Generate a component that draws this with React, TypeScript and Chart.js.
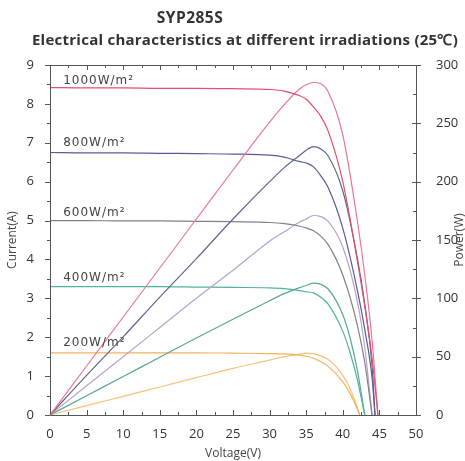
import React, { useEffect, useRef } from "react";
import { Chart, registerables } from "chart.js";

Chart.register(...registerables);

const titleMain = "SYP285S";
const titleSub = "Electrical characteristics at different irradiations (25\u2103)";
const powerAxisTitle = "Power(W)";

const irradiationLabels = ["1000W/m\u00b2", "800W/m\u00b2", "600W/m\u00b2", "400W/m\u00b2", "200W/m\u00b2"];
const labelAnchorVoltage = [1.8, 1.8, 1.8, 1.8, 1.8];
const labelAnchorCurrent = [8.6, 6.99, 5.19, 3.52, 1.85];

const voltage1000 = [0, 5, 10, 15, 20, 25, 30, 32, 34, 35, 36, 37, 38, 40, 42, 43, 44, 44.8];
const current1000 = [8.42, 8.41, 8.41, 8.4, 8.4, 8.39, 8.37, 8.33, 8.22, 8.12, 7.92, 7.68, 7.3, 6.0, 3.95, 2.8, 1.45, 0];
const power1000 = [0, 42, 84, 126, 168, 210, 251, 266, 279, 283, 285, 284, 277, 240, 166, 120, 64, 0];

const voltage800 = [0, 5, 10, 15, 20, 25, 30, 32, 34, 35, 36, 37, 38, 40, 42, 43, 44, 44.4];
const current800 = [6.75, 6.74, 6.74, 6.73, 6.72, 6.71, 6.68, 6.63, 6.52, 6.48, 6.38, 6.15, 5.85, 4.8, 3.2, 2.2, 0.95, 0];
const power800 = [0, 34, 67, 101, 134, 168, 200, 212, 222, 227, 230, 228, 222, 192, 134, 95, 42, 0];

const voltage600 = [0, 5, 10, 15, 20, 25, 30, 32, 34, 35, 36, 37, 38, 40, 42, 43, 44];
const current600 = [5.0, 5.0, 4.99, 4.99, 4.98, 4.97, 4.95, 4.92, 4.86, 4.81, 4.74, 4.6, 4.38, 3.6, 2.3, 1.35, 0];
const power600 = [0, 25, 50, 75, 100, 124, 149, 157, 165, 168, 171, 170, 166, 144, 97, 58, 0];

const voltage400 = [0, 5, 10, 15, 20, 25, 30, 32, 34, 35, 36, 37, 38, 40, 41, 42, 43];
const current400 = [3.3, 3.3, 3.3, 3.3, 3.29, 3.28, 3.27, 3.25, 3.2, 3.17, 3.14, 3.03, 2.85, 2.15, 1.6, 0.9, 0];
const power400 = [0, 16.5, 33, 49.5, 66, 82, 98, 104, 109, 111, 113, 112, 108, 86, 66, 38, 0];

const voltage200 = [0, 5, 10, 15, 20, 25, 30, 32, 34, 35, 36, 38, 40, 41, 42, 42.3];
const current200 = [1.6, 1.6, 1.6, 1.6, 1.6, 1.59, 1.58, 1.57, 1.54, 1.51, 1.46, 1.25, 0.85, 0.55, 0.15, 0];
const power200 = [0, 8, 16, 24, 32, 40, 47, 50, 52, 53, 52.5, 47.5, 34, 22.5, 6.3, 0];

const ivColors = ["#e2506e", "#5a5a98", "#80808e", "#4fb3a0", "#f2b25a"];
const powerColors = ["#ea7894", "#62648e", "#b8a2cc", "#5aa892", "#f6c27a"];

const xMin = 0, xMax = 50, xStep = 5;
const yMin = 0, yMax = 9, yStep = 1;
const pMin = 0, pMax = 300, pStep = 50;

const pts = (xs: number[], ys: number[]) => xs.map((x, i) => ({ x, y: ys[i] }));

const frameTicks = {
  id: "frameTicks",
  afterDatasetsDraw(chart: any) {
    const { ctx, chartArea, scales } = chart;
    const { left, right, top, bottom } = chartArea;
    ctx.save();
    ctx.strokeStyle = "#555";
    ctx.lineWidth = 1;
    ctx.beginPath();
    ctx.rect(left + 0.5, top + 0.5, right - left, bottom - top);
    ctx.stroke();
    ctx.beginPath();
    const xs = scales.x;
    for (let v = xMin; v <= xMax + 1e-9; v += xStep / 2) {
      const px = Math.round(xs.getPixelForValue(v)) + 0.5;
      const major = Math.abs(v % xStep) < 1e-9;
      const len = major ? 5 : 3;
      ctx.moveTo(px, bottom);
      ctx.lineTo(px, bottom - len);
      ctx.moveTo(px, top);
      ctx.lineTo(px, top + len);
    }
    const ys = scales.y;
    for (let v = yMin; v <= yMax + 1e-9; v += yStep / 2) {
      const py = Math.round(ys.getPixelForValue(v)) + 0.5;
      const major = Math.abs(v % yStep) < 1e-9;
      ctx.moveTo(left, py);
      ctx.lineTo(left - (major ? 5 : 3), py);
    }
    const ps = scales.p;
    for (let v = pMin; v <= pMax + 1e-9; v += pStep / 2) {
      const py = Math.round(ps.getPixelForValue(v)) + 0.5;
      const major = Math.abs(v % pStep) < 1e-9;
      if (major) {
        ctx.moveTo(right - 4, py);
        ctx.lineTo(right + 5, py);
      } else {
        ctx.moveTo(right, py);
        ctx.lineTo(right - 3, py);
      }
    }
    ctx.stroke();

    ctx.fillStyle = "#444";
    ctx.font = "12px 'DejaVu Sans'";
    (ctx as any).letterSpacing = "1px";
    ctx.textBaseline = "middle";
    ctx.textAlign = "left";
    irradiationLabels.forEach((t, i) => {
      ctx.fillText(t, xs.getPixelForValue(labelAnchorVoltage[i]), ys.getPixelForValue(labelAnchorCurrent[i]));
    });

    (ctx as any).letterSpacing = "0px";
    ctx.font = "12px 'Open Sans'";
    ctx.textAlign = "center";
    ctx.translate(chart.width - 5, (top + bottom) / 2);
    ctx.rotate(-Math.PI / 2);
    ctx.fillText(powerAxisTitle, 0, 0);
    ctx.restore();
  },
};

export default function App() {
  const ref = useRef<HTMLCanvasElement>(null);
  useEffect(() => {
    document.body.style.margin = "0";
    const series = [
      [voltage1000, current1000, power1000],
      [voltage800, current800, power800],
      [voltage600, current600, power600],
      [voltage400, current400, power400],
      [voltage200, current200, power200],
    ];
    const datasets: any[] = [];
    series.forEach(([v, c, p], i) => {
      datasets.push({
        label: irradiationLabels[i] + " I",
        data: pts(v, c),
        yAxisID: "y",
        borderColor: ivColors[i],
        borderWidth: 1.2,
        pointRadius: 0,
        cubicInterpolationMode: "monotone",
      });
      datasets.push({
        label: irradiationLabels[i] + " P",
        data: pts(v, p),
        yAxisID: "p",
        borderColor: powerColors[i],
        borderWidth: 1.2,
        pointRadius: 0,
        cubicInterpolationMode: "monotone",
      });
    });
    const tickFont = { family: "'Open Sans'", size: 13 };
    const chart = new Chart(ref.current!, {
      type: "line",
      data: { datasets },
      options: {
        animation: false,
        responsive: false,
        maintainAspectRatio: false,
        layout: { padding: { top: 65, left: 0, right: 0, bottom: 0 } },
        plugins: { legend: { display: false }, tooltip: { enabled: false } },
        scales: {
          x: {
            type: "linear",
            min: xMin,
            max: xMax,
            ticks: { stepSize: xStep, font: tickFont, color: "#333", padding: 3 },
            grid: { display: false },
            border: { display: false },
            title: { display: true, text: "Voltage(V)", font: { family: "'Open Sans'", size: 12 }, color: "#444", padding: { top: 0, bottom: 0 } },
            afterFit: (s: any) => { s.height = 46; },
          },
          y: {
            type: "linear",
            position: "left",
            min: yMin,
            max: yMax,
            ticks: { stepSize: yStep, font: tickFont, color: "#333", padding: 8 },
            grid: { display: false },
            border: { display: false },
            title: { display: true, text: "Current(A)", font: { family: "'Open Sans'", size: 12 }, color: "#444", padding: { top: 5, bottom: 0 } },
            afterFit: (s: any) => { s.width = 50; },
          },
          p: {
            type: "linear",
            position: "right",
            min: pMin,
            max: pMax,
            ticks: { stepSize: pStep, font: tickFont, color: "#333", padding: 12 },
            grid: { display: false },
            border: { display: false },
            title: { display: false },
            afterFit: (s: any) => { s.width = 49; },
          },
        },
      },
      plugins: [frameTicks],
    });
    return () => chart.destroy();
  }, []);
  return (
    <div style={{ position: "relative", width: 465, height: 461, background: "#fff" }}>
      <canvas ref={ref} width={465} height={461} style={{ display: "block" }} />
      <div style={{ position: "absolute", left: 0, width: 380, top: 6, textAlign: "center", fontFamily: "'Open Sans'", fontWeight: 700, fontSize: 15.5, letterSpacing: 0.5, color: "#333", whiteSpace: "nowrap" }}>{titleMain}</div>
      <div style={{ position: "absolute", left: 30, width: 430, top: 29, textAlign: "center", fontFamily: "'Open Sans'", fontWeight: 700, fontSize: 15, letterSpacing: 0.25, color: "#333", whiteSpace: "nowrap" }}>{titleSub}</div>
    </div>
  );
}
